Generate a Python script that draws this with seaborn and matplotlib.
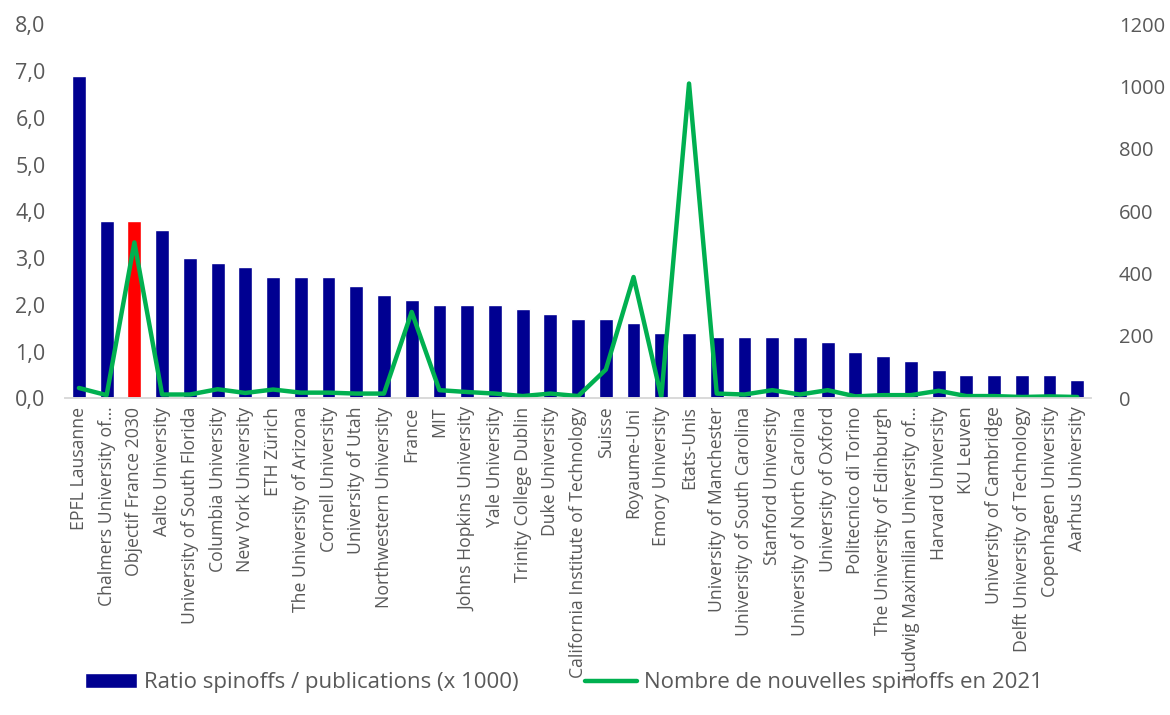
import numpy as np
import pandas as pd
import seaborn as sns
import matplotlib.pyplot as plt
from matplotlib.lines import Line2D
from matplotlib.patches import Patch

# Données
etablissements = [
    "EPFL Lausanne", "Chalmers University of…", "Objectif France 2030",
    "Aalto University", "University of South Florida", "Columbia University",
    "New York University", "ETH Zürich", "The University of Arizona",
    "Cornell University", "University of Utah", "Northwestern University",
    "France", "MIT", "Johns Hopkins University", "Yale University",
    "Trinity College Dublin", "Duke University",
    "California Institute of Technology", "Suisse", "Royaume-Uni",
    "Emory University", "Etats-Unis", "University of Manchester",
    "University of South Carolina", "Stanford University",
    "University of North Carolina", "University of Oxford",
    "Politecnico di Torino", "The University of Edinburgh",
    "Ludwig Maximilian University of…", "Harvard University", "KU Leuven",
    "University of Cambridge", "Delft University of Technology",
    "Copenhagen University", "Aarhus University",
]
ratio = [6.9, 3.8, 3.8, 3.6, 3.0, 2.9, 2.8, 2.6, 2.6, 2.6, 2.4, 2.2, 2.1,
         2.0, 2.0, 2.0, 1.9, 1.8, 1.7, 1.7, 1.6, 1.4, 1.4, 1.3, 1.3, 1.3,
         1.3, 1.2, 1.0, 0.9, 0.8, 0.6, 0.5, 0.5, 0.5, 0.5, 0.4]
nouvelles_spinoffs = [33, 10, 500, 12, 12, 29, 17, 28, 18, 18, 15, 15, 277,
                      26, 20, 15, 7, 15, 7, 92, 389, 4, 1010, 15, 12, 26,
                      12, 26, 6, 10, 10, 24, 7, 7, 4, 6, 4]

label_bar = "Ratio spinoffs / publications (x 1000)"
label_line = "Nombre de nouvelles spinoffs en 2021"

BLEU = "#000091"
ROUGE = "#FF0000"
VERT = "#00B050"
GRIS = "#595959"

df = pd.DataFrame({"etab": etablissements, "ratio": ratio,
                   "spinoffs": nouvelles_spinoffs})
df["pos"] = np.arange(len(df))
couleurs = [ROUGE if e == "Objectif France 2030" else BLEU for e in etablissements]

sns.set_style("white")
plt.rcParams["font.family"] = ["Open Sans", "DejaVu Sans"]

fig = plt.figure(figsize=(11.7, 7.15), dpi=100)
ax = fig.add_axes([0.0556, 0.443, 0.877, 0.523])

sns.barplot(data=df, x="etab", y="ratio", hue="etab", palette=couleurs,
            legend=False, width=0.5, saturation=1, ax=ax)
ax.set_ylim(0, 8)
ax.set_xlim(-0.5, len(df) - 0.5)
ax.set_yticks(np.arange(0, 8.1, 1))
ax.set_yticklabels([f"{v:.1f}".replace(".", ",") for v in np.arange(0, 8.1, 1)])
ax.set_xlabel("")
ax.set_ylabel("")
ax.tick_params(axis="x", labelrotation=90, labelsize=12.7, colors=GRIS, length=0, pad=6)
ax.tick_params(axis="y", labelsize=15.5, colors=GRIS, length=0, pad=14)

ax2 = ax.twinx()
sns.lineplot(data=df, x="pos", y="spinoffs", color=VERT, linewidth=3.2,
             sort=False, ax=ax2)
ax2.set_ylim(0, 1200)
ax2.set_yticks(np.arange(0, 1201, 200))
ax2.set_ylabel("")
ax2.tick_params(axis="y", labelsize=14.5, colors=GRIS, length=0, pad=20)

for a in (ax, ax2):
    for s in ("top", "right", "left"):
        a.spines[s].set_visible(False)
    a.spines["bottom"].set_color("#D9D9D9")
    a.spines["bottom"].set_linewidth(1.2)

handles = [Patch(facecolor=BLEU, label=label_bar),
           Line2D([0], [0], color=VERT, linewidth=3.2, label=label_line)]
fig.legend(handles=handles, loc="center", bbox_to_anchor=(0.482, 0.045),
           ncol=2, frameon=False, fontsize=16, labelcolor=GRIS,
           handlelength=2.35, handleheight=0.7, handletextpad=0.32,
           columnspacing=3.0)

fig.savefig("out.png", dpi=100)
